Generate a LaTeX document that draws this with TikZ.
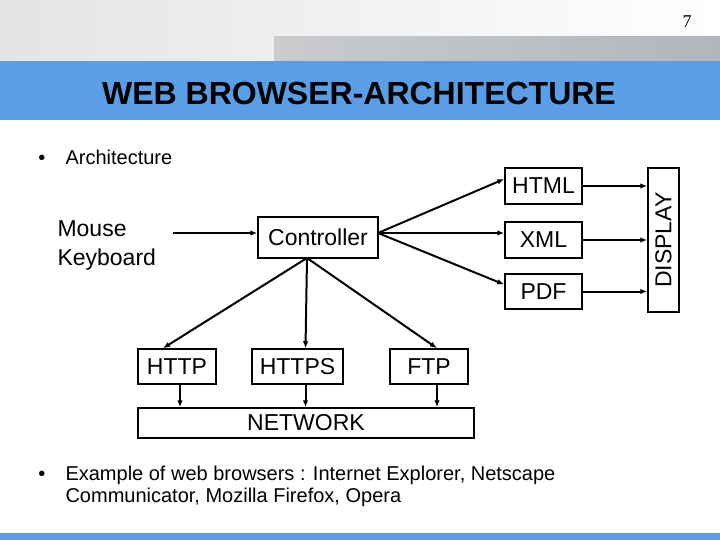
\documentclass[tikz,border=0pt]{standalone}
\usepackage{fontspec}
\setmainfont{Liberation Sans}
\newfontfamily\numfont{Liberation Serif}
\usetikzlibrary{arrows.meta, positioning, calc}

\definecolor{slideblue}{HTML}{5A9EE8}
\definecolor{topgray}{HTML}{E2E4E6}
\definecolor{bandgray}{HTML}{C9CBCD}
\definecolor{banddark}{HTML}{B2B6BC}

\begin{document}
\begin{tikzpicture}[
        x=1pt, y=-1pt,
        box/.style={draw, line width=1.5pt, inner sep=0pt, font=\fontsize{23}{27}\selectfont},
        link/.style={line width=2pt, -{Latex[length=7pt, width=5.5pt]}},
        bullettext/.style={font=\fontsize{20}{22}\selectfont, align=left},
    ]
        \useasboundingbox (0,0) rectangle (720,540);

        % Slide background
        \shade[left color=topgray, right color=white] (0,0) rectangle (720,61);
        \shade[left color=bandgray, right color=banddark] (274,37) rectangle (720,61);
        \fill[slideblue] (0,61) rectangle (720,120);
        \fill[slideblue] (0,533) rectangle (720,540);

        % Title and page number
        \node[font=\fontsize{32}{36}\selectfont\bfseries] (title) at (359,93) {WEB BROWSER-ARCHITECTURE};
        \node[font=\numfont\fontsize{18}{20}\selectfont] (pagenum) at (687,22) {7};

        % Bullets
        \node[bullettext, anchor=base west] (arch) at (62,165) {Architecture};
        \node[bullettext, anchor=base east] (dot1) at ([xshift=-13pt]arch.base west) {\textbullet};
        \node[bullettext, anchor=north west] (examples) at (62,462) {\strut Example of web browsers : Internet Explorer, Netscape\\Communicator, Mozilla Firefox, Opera};
        \node[bullettext, anchor=north east] (dot2) at ([xshift=-13pt]examples.north west) {\strut\textbullet};

        % Boxes
        \node[box, minimum width=120pt, minimum height=41pt] (ctrl) at (318,237.5) {Controller};
        \node[box, minimum width=77pt, minimum height=36pt] (html) at (543.5,186) {HTML};
        \node[box, minimum width=77pt, minimum height=36pt] (xml) at (543.5,240) {XML};
        \node[box, minimum width=77pt, minimum height=35pt] (pdf) at (543.5,291.5) {PDF};
        \node[box, minimum width=31pt, minimum height=144pt] (disp) at (663.5,240) {};
        \node[font=\fontsize{23}{27}\selectfont, rotate=90] (disptext) at (disp.center) {DISPLAY};
        \node[box, minimum width=78pt, minimum height=35pt] (http) at (177,366.5) {HTTP};
        \node[box, minimum width=91pt, minimum height=35pt] (https) at (297.5,366.5) {HTTPS};
        \node[box, minimum width=78pt, minimum height=35pt] (ftp) at (429,366.5) {FTP};
        \node[box, minimum width=336pt, minimum height=30pt] (net) at (306,423) {NETWORK};

        % Input
        \node[font=\fontsize{23}{29}\selectfont, align=left, anchor=west] (input) at (54,245) {Mouse\\Keyboard};
        \coordinate (src) at (173,233);
        \draw[link] (src) -- (src -| ctrl.west);

        % Controller to formats and display
        \coordinate (fan) at (378,233);
        \foreach \t in {html, xml, pdf} {
            \draw[link] (fan) -- ([yshift=7pt]\t.west);
            \draw[link] (\t.east) -- (\t.east -| disp.west);
        }

        % Controller to protocols and network
        \coordinate (drop) at (307,258);
        \foreach \t/\a/\b in {http/-14/3, https/8/8, ftp/8/8} {
            \draw[link] (drop) -- ([xshift=\a pt]\t.north);
            \draw[link] ([xshift=\b pt]\t.south) -- ([xshift=\b pt]\t.south |- net.north);
        }
    \end{tikzpicture}
\end{document}
